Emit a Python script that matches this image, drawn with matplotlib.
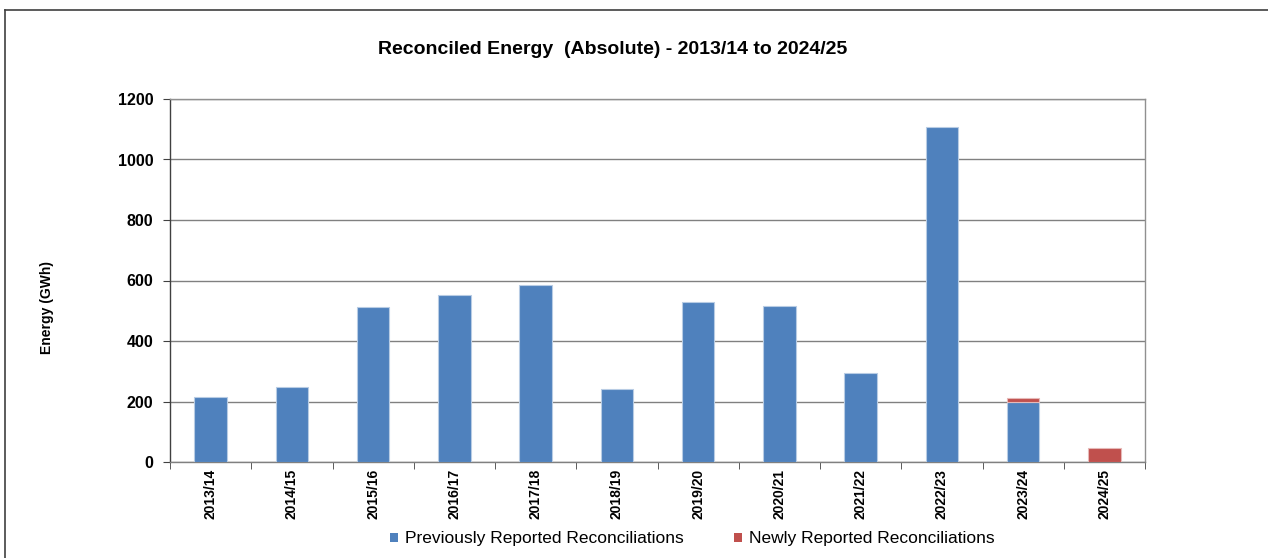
import numpy as np
import matplotlib
matplotlib.use("Agg")
import matplotlib.pyplot as plt
from matplotlib.patches import Patch
from matplotlib.lines import Line2D

plt.rcParams['font.family'] = ['Liberation Sans', 'DejaVu Sans']

years = ['2013/14', '2014/15', '2015/16', '2016/17', '2017/18', '2018/19',
         '2019/20', '2020/21', '2021/22', '2022/23', '2023/24', '2024/25']
previous = [216, 249, 513, 551, 586, 240, 528, 516, 293, 1106, 200, 0]
newly = [0, 0, 0, 0, 0, 0, 0, 0, 0, 0, 10, 45]

blue = '#4F81BD'
red = '#C0504D'

fig = plt.figure(figsize=(12.68, 5.58), dpi=100)
ax = fig.add_axes([170/1268, 1 - 462/558, 975/1268, 363/558])

x = np.arange(len(years))
ax.bar(x, previous, width=0.4, color=blue, edgecolor='#B8CCE4',
       linewidth=[0.8 if v else 0 for v in previous], zorder=3)
ax.bar(x, newly, width=0.4, bottom=previous, color=red, edgecolor='#E6B9B8',
       linewidth=[0.8 if v else 0 for v in newly], zorder=3)

ax.set_xlim(-0.5, len(years) - 0.5)
ax.set_ylim(0, 1200)
ax.set_yticks(np.arange(0, 1201, 200))
ax.yaxis.grid(True, color='#808080', linewidth=1)
ax.set_axisbelow(True)

ax.set_xticks(x)
ax.set_xticklabels(years, rotation=90, fontsize=10, fontweight='bold')
ax.set_xticks(np.arange(-0.5, len(years)), minor=True)
ax.tick_params(axis='x', which='major', length=0, pad=5)
ax.tick_params(axis='x', which='minor', length=5, color='#404040', direction='out')
ax.tick_params(axis='y', length=5, color='#404040', labelsize=11.5, pad=7)
for lab in ax.get_yticklabels():
    lab.set_fontweight('bold')

ax.spines['left'].set_color('#404040')
ax.spines['bottom'].set_color('#808080')
ax.spines['right'].set_color('#909090')
ax.spines['top'].set_color('#909090')
for s in ax.spines.values():
    s.set_linewidth(1)

fig.text(47/1268, 1 - 307/558, 'Energy (GWh)', rotation=90, ha='center', va='center',
         fontsize=10, fontweight='bold')

fig.text(613/1268, 1 - 50/558, 'Reconciled Energy  (Absolute) - 2013/14 to 2024/25',
         ha='center', va='center', fontsize=14, fontweight='bold')

handles = [Patch(facecolor=blue, edgecolor='none', label='Previously Reported Reconciliations'),
           Patch(facecolor=red, edgecolor='none', label='Newly Reported Reconciliations')]
fig.legend(handles=handles, loc='center', bbox_to_anchor=(692/1268, 1 - 539/558), ncol=2,
           frameon=False, fontsize=12.5, handlelength=0.46, handleheight=0.46,
           handletextpad=0.4, columnspacing=2.9, borderpad=0)

# outer frame (left and top edges visible)
fig.add_artist(Line2D([5/1268, 5/1268], [0, 1 - 10/558], color='#404040', linewidth=1.2))
fig.add_artist(Line2D([5/1268, 1], [1 - 10/558, 1 - 10/558], color='#404040', linewidth=1.2))

fig.savefig('out.png', dpi=100)
